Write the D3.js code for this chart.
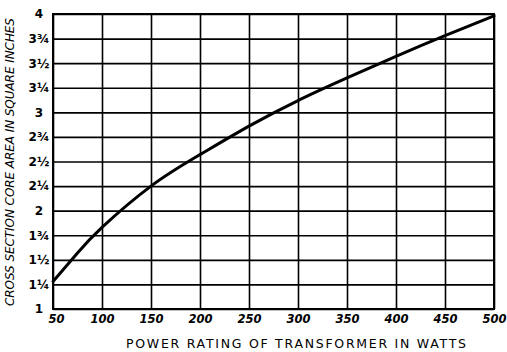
<!DOCTYPE html>
<html>
<head>
<meta charset="utf-8">
<script src="https://cdn.jsdelivr.net/npm/d3@7"></script>
<style>
  html, body { margin: 0; padding: 0; background: #fff; }
  svg { display: block; }
</style>
</head>
<body>
<script>
// Core cross-section area vs. transformer power rating
const watts = [50, 75, 100, 150, 200, 250, 300, 350, 400, 450, 500];
const area  = [1.28, 1.57, 1.83, 2.25, 2.57, 2.86, 3.12, 3.35, 3.57, 3.78, 3.98];

const xTicks = [50, 100, 150, 200, 250, 300, 350, 400, 450, 500];
const yTicks = [1, 1.25, 1.5, 1.75, 2, 2.25, 2.5, 2.75, 3, 3.25, 3.5, 3.75, 4];
const yTickLabels = ["1", "1¼", "1½", "1¾", "2", "2¼", "2½", "2¾", "3", "3¼", "3½", "3¾", "4"];

const xTitle = "POWER RATING OF TRANSFORMER IN WATTS";
const yTitle = "CROSS SECTION  CORE AREA  IN SQUARE INCHES";

const W = 507, H = 352;
const m = { left: 53, right: 494, top: 14, bottom: 309 };

const svg = d3.select("body").append("svg")
  .attr("width", W).attr("height", H);

const x = d3.scaleLinear().domain([50, 500]).range([m.left, m.right]);
const y = d3.scaleLinear().domain([1, 4]).range([m.bottom, m.top]);

// Grid via axes with full-length ticks
const gx = svg.append("g")
  .attr("transform", `translate(0,${m.bottom})`)
  .call(d3.axisBottom(x).tickValues(xTicks).tickSizeInner(-(m.bottom - m.top)).tickSizeOuter(0).tickPadding(6).tickFormat(d3.format("d")));
gx.select(".domain").remove();
gx.selectAll(".tick line").attr("stroke", "#000").attr("stroke-width", 1.6);
gx.selectAll(".tick text")
  .attr("font-family", "DejaVu Sans, sans-serif")
  .attr("font-size", 11.5)
  .attr("font-weight", "bold")
  .attr("font-style", "italic")
  .attr("fill", "#000")
  .attr("dx", (d, i) => i === 0 ? 3 : 0);

const gy = svg.append("g")
  .attr("transform", `translate(${m.left},0)`)
  .call(d3.axisLeft(y).tickValues(yTicks).tickSizeInner(-(m.right - m.left)).tickSizeOuter(0).tickPadding(0)
    .tickFormat((d, i) => yTickLabels[i]));
gy.select(".domain").remove();
gy.selectAll(".tick line").attr("stroke", "#000").attr("stroke-width", 1.6);
gy.selectAll(".tick text")
  .attr("font-family", "DejaVu Sans, sans-serif")
  .attr("font-size", 12)
  .attr("font-weight", "bold")
  .attr("fill", "#000")
  .attr("text-anchor", "middle")
  .attr("x", 39 - m.left);

// Plot frame
svg.append("rect")
  .attr("x", m.left).attr("y", m.top)
  .attr("width", m.right - m.left).attr("height", m.bottom - m.top)
  .attr("fill", "none").attr("stroke", "#000").attr("stroke-width", 2);

// Curve
const line = d3.line()
  .x((d, i) => x(watts[i]))
  .y((d, i) => y(area[i]))
  .curve(d3.curveNatural);
svg.append("path")
  .datum(area)
  .attr("d", line)
  .attr("fill", "none")
  .attr("stroke", "#000")
  .attr("stroke-width", 3)
  .attr("stroke-linecap", "round");

// Axis titles
svg.append("text")
  .attr("x", 296).attr("y", 348)
  .attr("text-anchor", "middle")
  .attr("font-family", "DejaVu Sans, sans-serif")
  .attr("font-size", 12.5)
  .attr("textLength", 340)
  .attr("lengthAdjust", "spacing")
  .attr("fill", "#000")
  .text(xTitle);

svg.append("text")
  .attr("transform", "translate(14,162) rotate(-90)")
  .attr("text-anchor", "middle")
  .attr("font-family", "DejaVu Sans, sans-serif")
  .attr("font-size", 12)
  .attr("font-style", "italic")
  .attr("textLength", 288)
  .attr("lengthAdjust", "spacing")
  .attr("fill", "#000")
  .text(yTitle);
</script>
</body>
</html>
